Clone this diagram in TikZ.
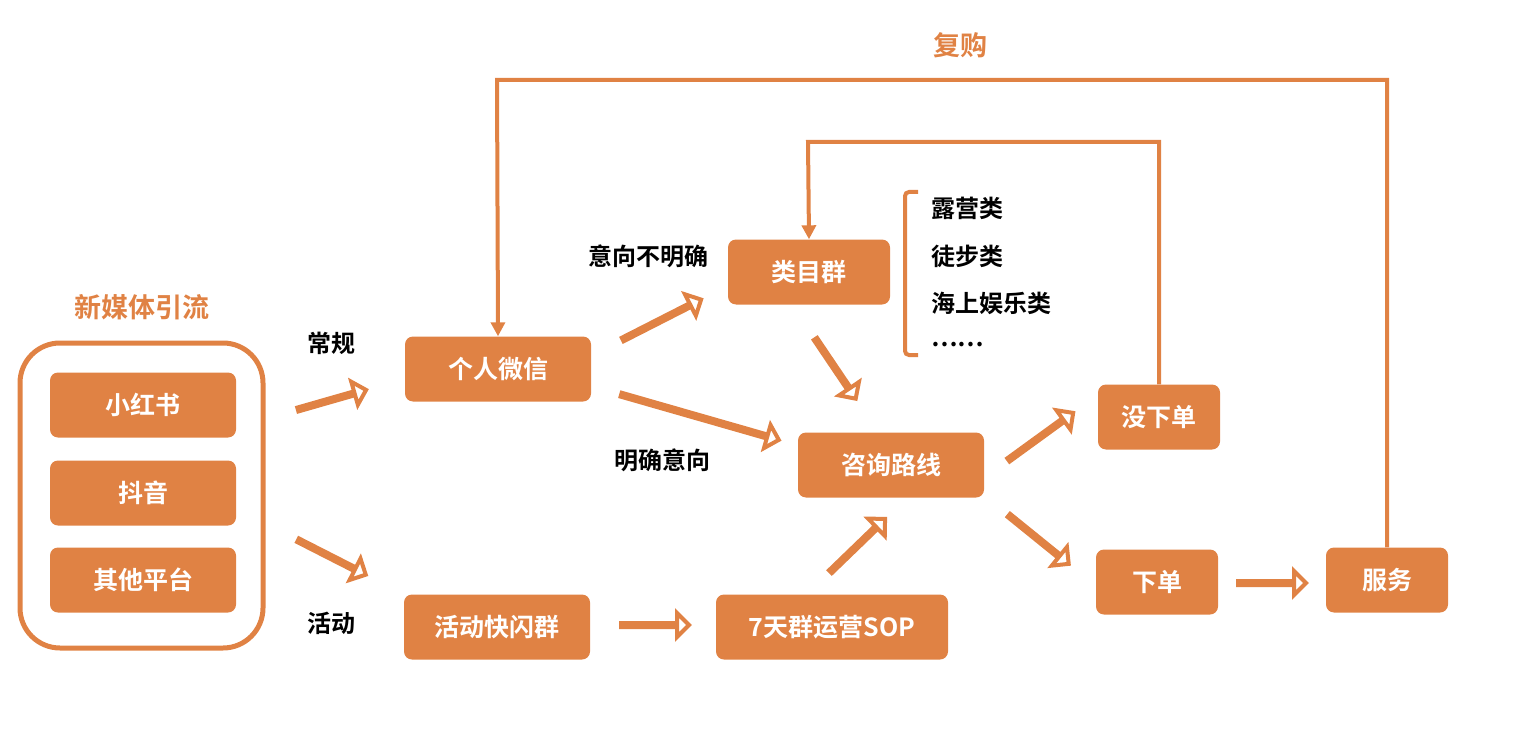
\documentclass[tikz,border=0pt]{standalone}
\usepackage{fontspec}
\setmainfont{Noto Sans CJK SC}[BoldFont={Noto Sans CJK SC Bold}]
\usetikzlibrary{shapes.arrows,arrows.meta,positioning}
\definecolor{flow}{HTML}{E08244}
\tikzset{
  box/.style={fill=flow, rounded corners=8pt, text=white, font=\bfseries\fontsize{25}{25}\selectfont,
    minimum height=65pt, inner sep=0pt},
  harrow/.style={single arrow, draw=flow, line width=4pt, fill=white, minimum width=20pt,
    single arrow head extend=10pt, inner sep=0pt},
  loop/.style={draw=flow, line width=4pt},
  lbl/.style={font=\bfseries\fontsize{24}{24}\selectfont},
  olbl/.style={font=\bfseries\fontsize{27}{27}\selectfont, text=flow}
}
\begin{document}
\begin{tikzpicture}[x=1pt,y=-1pt]
\useasboundingbox (0,0) rectangle (1514,746);
% source platforms
\node[olbl] (media) at (142,307) {新媒体引流};
\draw[flow, line width=5pt, rounded corners=40pt] (20,343) rectangle (263,648);
\node[box, minimum width=186pt] (xhs) at (143,405) {小红书};
\node[box, minimum width=186pt] (dy) at (143,493) {抖音};
\node[box, minimum width=186pt] (other) at (143,580) {其他平台};
% main flow
\node[box, minimum width=186pt] (wechat) at (498,369) {个人微信};
\node[box, minimum width=186pt] (flash) at (497,627) {活动快闪群};
\node[box, minimum width=232pt] (sop) at (832,627) {7天群运营SOP};
\node[box, minimum width=162pt] (cat) at (809,272) {类目群};
\node[box, minimum width=186pt] (consult) at (891,465) {咨询路线};
\node[box, minimum width=122pt] (nobuy) at (1159,417) {没下单};
\node[box, minimum width=122pt] (buy) at (1157,582) {下单};
\node[box, minimum width=122pt] (serve) at (1387,580) {服务};
% hollow arrows
\node[harrow, minimum height=71pt, rotate=16] (a1) at (331,400) {};
\node[harrow, minimum height=76pt, rotate=-27] (a2) at (331,557) {};
\node[harrow, minimum height=88pt, rotate=27] (a3) at (661,320) {};
\node[harrow, minimum height=164pt, rotate=-16] (a4) at (699,417) {};
\node[harrow, minimum height=72pt, rotate=-56] (a5) at (835,368) {};
\node[harrow, minimum height=68pt] (a6) at (654,625) {};
\node[harrow, minimum height=76pt, rotate=44] (a7) at (857,546) {};
\node[harrow, minimum height=80pt, rotate=36] (a8) at (1040,437) {};
\node[harrow, minimum height=77pt, rotate=-39] (a9) at (1038,539) {};
\node[harrow, minimum height=68pt] (a10) at (1271,583) {};
% labels
\node[lbl] (normal) at (331,343) {常规};
\node[lbl] (event) at (331,623) {活动};
\node[lbl] (vague) at (648,256) {意向不明确};
\node[lbl] (clear) at (662,460) {明确意向};
% category list
\draw[loop, rounded corners=4pt] (918,192) -- (905,192) -- (905,355) -- (918,355);
\node[lbl, anchor=west] (camp) at (928,208) {露营类};
\node[lbl, anchor=west] (hike) at (928,256) {徒步类};
\node[lbl, anchor=west] (sea) at (928,303) {海上娱乐类};
\node[lbl, anchor=west] (more) at (928,345) {……};
% loops
\draw[loop, -{Triangle[length=14pt,width=14pt]}] (nobuy.north) |- (808,142) -- (cat.north);
\draw[loop, -{Triangle[length=14pt,width=14pt]}] (serve.north) |- (497,80) -- (wechat.north);
\node[olbl] (rebuy) at (960,45) {复购};
\end{tikzpicture}
\end{document}
